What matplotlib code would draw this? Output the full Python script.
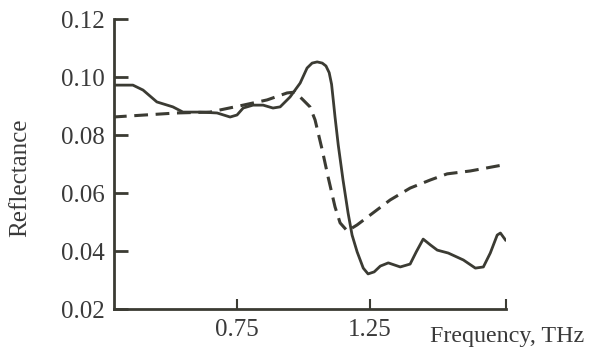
import matplotlib
matplotlib.use("Agg")
import matplotlib.pyplot as plt

# Solid curve (frequency THz, reflectance)
solid_f = [0.284, 0.359, 0.397, 0.449, 0.509, 0.547, 0.611, 0.675, 0.724, 0.750,
           0.773, 0.810, 0.848, 0.885, 0.912, 0.949, 0.987, 1.013, 1.032, 1.051,
           1.070, 1.084, 1.096, 1.105, 1.112, 1.118, 1.130, 1.148, 1.167, 1.182, 1.201,
           1.224, 1.242, 1.265, 1.288, 1.318, 1.363, 1.400, 1.423, 1.449, 1.476,
           1.502, 1.543, 1.600, 1.645, 1.675, 1.701, 1.727, 1.739, 1.758]
solid_r = [0.0972, 0.0972, 0.0955, 0.0914, 0.0897, 0.0879, 0.0879, 0.0876, 0.0862, 0.0869,
           0.0893, 0.0903, 0.0903, 0.0893, 0.0897, 0.0931, 0.0979, 0.1031, 0.1048, 0.1052,
           0.1048, 0.1038, 0.1015, 0.0975, 0.0915, 0.0862, 0.0766, 0.0645, 0.0531, 0.0455, 0.0397,
           0.0341, 0.0321, 0.0328, 0.0348, 0.0359, 0.0345, 0.0355, 0.0397, 0.0441, 0.0421,
           0.0403, 0.0393, 0.0369, 0.0341, 0.0345, 0.0393, 0.0455, 0.0462, 0.0438]

# Dashed curve
dash_f = [0.284, 0.524, 0.648, 0.773, 0.863, 0.938, 0.968, 0.998, 1.024, 1.043,
          1.070, 1.092, 1.118, 1.137, 1.164, 1.201, 1.250, 1.325, 1.400, 1.476,
          1.539, 1.626, 1.750]
dash_r = [0.0862, 0.0876, 0.0879, 0.0903, 0.0921, 0.0945, 0.0948, 0.0921, 0.0897, 0.0852,
          0.0748, 0.0655, 0.0552, 0.0497, 0.0469, 0.0490, 0.0524, 0.0576, 0.0617, 0.0645,
          0.0666, 0.0676, 0.0697]

yticks = [0.02, 0.04, 0.06, 0.08, 0.10, 0.12]
ytick_labels = ["0.02", "0.04", "0.06", "0.08", "0.10", "0.12"]
xticks = [0.75, 1.25]
xtick_labels = ["0.75", "1.25"]
xmin, xmax = 0.288, 1.76

plt.rcParams['font.family'] = ['Liberation Serif', 'DejaVu Serif']
ink = '#3b3b33'
txt = '#3a3a3a'
fs = 18

fig = plt.figure(figsize=(5.9, 3.5), dpi=100)
ax = fig.add_axes([114/590, 41/350, 392/590, 290/350])

ax.plot(solid_f, solid_r, color=ink, lw=2.0, solid_joinstyle='round')
ax.plot(dash_f, dash_r, color=ink, lw=2.2, linestyle=(0, (4.5, 2.5)))

ax.set_xlim(xmin, xmax)
ax.set_ylim(0.02, 0.12)
ax.set_yticks(yticks)
ax.set_yticklabels(ytick_labels)
ax.set_xticks(xticks + [xmax])
ax.set_xticklabels(xtick_labels + [""])

for s in ['top', 'right']:
    ax.spines[s].set_visible(False)
for s in ['left', 'bottom']:
    ax.spines[s].set_color(ink)
    ax.spines[s].set_linewidth(2.0)

ax.tick_params(axis='y', direction='in', length=10, width=2, color=ink,
               labelsize=fs, labelcolor=txt, pad=7)
ax.tick_params(axis='x', direction='in', length=7, width=1.5, color=ink,
               labelsize=fs, labelcolor=txt, pad=7)

fig.text(20/590, 1 - 178/350, "Reflectance", rotation=90, ha='center', va='center',
         fontsize=fs, color=txt)
fig.text(430/590, 1 - 342/350, "Frequency, THz", ha='left', va='baseline',
         fontsize=17.3, color=txt)

fig.savefig("out.png", dpi=100)
